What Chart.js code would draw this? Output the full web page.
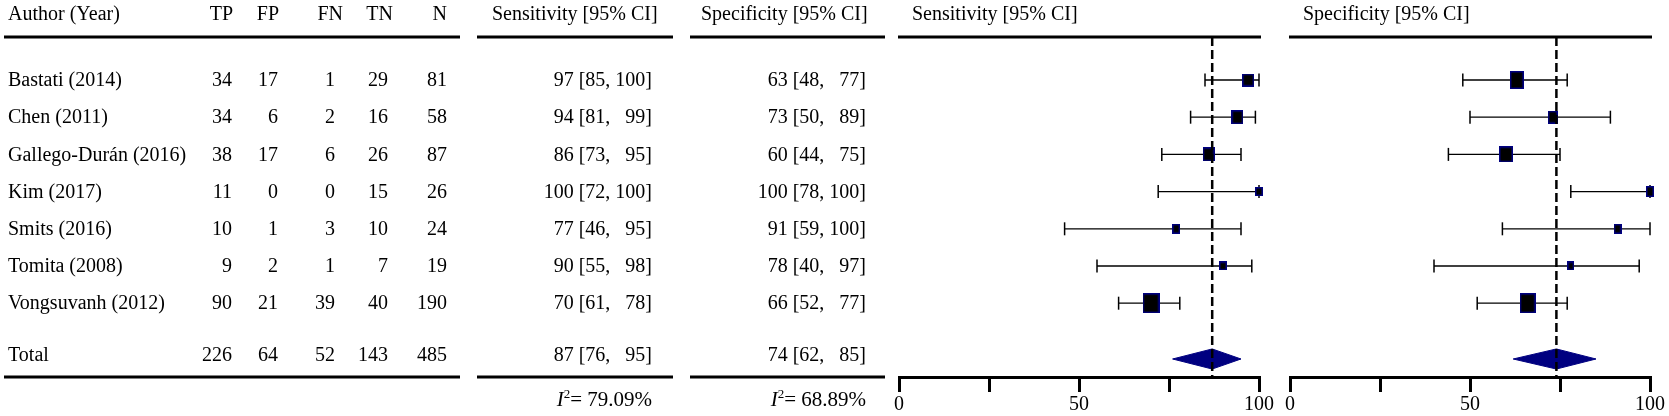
<!DOCTYPE html>
<html>
<head>
<meta charset="utf-8">
<script src="https://cdn.jsdelivr.net/npm/chart.js@4.4.1/dist/chart.umd.min.js"></script>
<style>
  body { margin: 0; background: #fff; }
  #wrap { position: relative; width: 1669px; height: 416px; }
  canvas { position: absolute; top: 0; }
</style>
</head>
<body>
<div id="wrap">
  <canvas id="sens" width="1280" height="416" style="left:0px"></canvas>
  <canvas id="spec" width="399" height="416" style="left:1270px"></canvas>
</div>
<script>
// study table
const authors = ['Bastati (2014)', 'Chen (2011)', 'Gallego-Durán (2016)', 'Kim (2017)', 'Smits (2016)', 'Tomita (2008)', 'Vongsuvanh (2012)'];
const tp = [34, 34, 38, 11, 10, 9, 90];
const fp = [17, 6, 17, 0, 1, 2, 21];
const fn = [1, 2, 6, 0, 3, 1, 39];
const tn = [29, 16, 26, 15, 10, 7, 40];
const nTotal = [81, 58, 87, 26, 24, 19, 190];
const totals = [226, 64, 52, 143, 485];

// sensitivity / specificity with 95% CI
const sens = [97, 94, 86, 100, 77, 90, 70];
const sensLo = [85, 81, 73, 72, 46, 55, 61];
const sensHi = [100, 99, 95, 100, 95, 98, 78];
const spec = [63, 73, 60, 100, 91, 78, 66];
const specLo = [48, 50, 44, 78, 59, 40, 52];
const specHi = [77, 89, 75, 100, 100, 97, 77];
const sensPooled = [87, 76, 95];
const specPooled = [74, 62, 85];
const sensI2 = '79.09%';
const specI2 = '68.89%';
const xTicks = [0, 50, 100];

// box sizes (w, h) in px, study weights
const sensBox = [[12, 13], [12, 14], [12, 14], [8, 9], [8, 10], [8, 9], [17, 20]];
const specBox = [[14, 18], [10, 13], [14, 16], [8, 11], [8, 10], [7, 9], [16, 20]];

const FONT = '"Liberation Serif", "Times New Roman", serif';
const Y_MIN = -1.156, Y_MAX = 7.984;
const HEAD_ROW = -1.75, TOTAL_ROW = 7.5, I2_ROW = 8.62;
const DIAMOND_H = 0.27;
const TEXT_DY = 1;

Chart.defaults.font.family = FONT;
Chart.defaults.font.size = 20;
Chart.defaults.color = '#000';

function pad3(v) {
  const s = String(v);
  return s.length < 3 ? '  '.repeat(3 - s.length) + s : s;
}
function ciText(e, l, h) {
  return e + ' [' + l + ', ' + pad3(h) + ']';
}

function boxImage(w, h) {
  const c = document.createElement('canvas');
  c.width = w; c.height = h;
  const g = c.getContext('2d');
  g.fillStyle = '#000080';
  g.fillRect(0, 0, w, h);
  g.fillStyle = '#000';
  g.fillRect(1.5, 1.5, w - 3, h - 3);
  return c;
}

function txt(ctx, s, x, y, align) {
  ctx.textAlign = align;
  ctx.fillText(s, x, y);
}
function rule(ctx, x1, x2, y) {
  ctx.beginPath();
  ctx.moveTo(x1, y);
  ctx.lineTo(x2, y);
  ctx.stroke();
}
function drawI2(ctx, value, right, y) {
  ctx.textAlign = 'left';
  ctx.font = '21px ' + FONT;
  const rest = '= ' + value;
  const wRest = ctx.measureText(rest).width;
  ctx.font = '13px ' + FONT;
  const w2 = ctx.measureText('2').width;
  ctx.font = 'italic 21px ' + FONT;
  const wI = ctx.measureText('I').width;
  let x = right - wRest - w2 - wI;
  ctx.fillText('I', x, y);
  ctx.font = '13px ' + FONT;
  ctx.fillText('2', x + wI, y - 6);
  ctx.font = '21px ' + FONT;
  ctx.fillText(rest, x + wI + w2, y);
}

// left-hand table, drawn on the sensitivity chart
const colRight = [232, 278, 335, 388, 447];
const headRight = [233, 279, 343, 393, 447];
const heads = ['TP', 'FP', 'FN', 'TN', 'N'];
const tablePlugin = {
  id: 'table',
  afterDraw(chart) {
    const ctx = chart.ctx, ys = chart.scales.y, a = chart.chartArea;
    ctx.save();
    ctx.fillStyle = '#000';
    ctx.strokeStyle = '#000';
    ctx.font = '20px ' + FONT;
    ctx.textBaseline = 'middle';

    const yh = ys.getPixelForValue(HEAD_ROW);
    txt(ctx, 'Author (Year)', 8, yh, 'left');
    heads.forEach((h, k) => txt(ctx, h, headRight[k], yh, 'right'));
    txt(ctx, 'Sensitivity [95% CI]', 492, yh, 'left');
    txt(ctx, 'Specificity [95% CI]', 701, yh, 'left');

    authors.forEach((name, i) => {
      const y = ys.getPixelForValue(i) + TEXT_DY;
      txt(ctx, name, 8, y, 'left');
      [tp, fp, fn, tn, nTotal].forEach((col, k) => txt(ctx, String(col[i]), colRight[k], y, 'right'));
      txt(ctx, ciText(sens[i], sensLo[i], sensHi[i]), 652, y, 'right');
      txt(ctx, ciText(spec[i], specLo[i], specHi[i]), 866, y, 'right');
    });

    const yt = ys.getPixelForValue(TOTAL_ROW) - 3;
    txt(ctx, 'Total', 8, yt, 'left');
    totals.forEach((v, k) => txt(ctx, String(v), colRight[k], yt, 'right'));
    txt(ctx, ciText(sensPooled[0], sensPooled[1], sensPooled[2]), 652, yt, 'right');
    txt(ctx, ciText(specPooled[0], specPooled[1], specPooled[2]), 866, yt, 'right');

    ctx.lineWidth = 3;
    [[4, 460], [477, 673], [690, 885]].forEach(r => {
      rule(ctx, r[0], r[1], a.top);
      rule(ctx, r[0], r[1], a.bottom);
    });

    const yi = ys.getPixelForValue(I2_ROW);
    drawI2(ctx, sensI2, 652, yi);
    drawI2(ctx, specI2, 866, yi);
    ctx.restore();
  }
};

// header text and top rule above each plot panel
function panelPlugin(title) {
  return {
    id: 'panelHead',
    afterDraw(chart) {
      const ctx = chart.ctx, a = chart.chartArea, ys = chart.scales.y;
      ctx.save();
      ctx.strokeStyle = '#000';
      ctx.lineWidth = 3;
      rule(ctx, a.left - 1, a.right + 2, a.top);
      ctx.fillStyle = '#000';
      ctx.font = '20px ' + FONT;
      ctx.textBaseline = 'middle';
      txt(ctx, title, a.left + 13, ys.getPixelForValue(HEAD_ROW), 'left');
      ctx.restore();
    }
  };
}

function panelDatasets(est, lo, hi, boxes, pooled) {
  const ds = [];
  ds.push({
    data: [{ x: pooled[0], y: Y_MIN }, { x: pooled[0], y: Y_MAX }],
    showLine: true, borderColor: '#000', borderWidth: 2.5, borderDash: [9, 4],
    pointRadius: 0, order: 0
  });
  ds.push({
    data: est.map((v, i) => ({ x: v, y: i })),
    pointStyle: boxes.map(b => boxImage(b[0], b[1])),
    pointRadius: 5, order: 1
  });
  lo.forEach((l, i) => ds.push({
    data: [{ x: l, y: i }, { x: hi[i], y: i }],
    showLine: true, borderColor: '#000', borderWidth: 1.3,
    pointStyle: 'line', pointRotation: 90, pointRadius: 6.5,
    pointBorderWidth: 1.5, pointBorderColor: '#000', order: 2
  }));
  ds.push({
    data: [
      { x: pooled[1], y: TOTAL_ROW },
      { x: pooled[0], y: TOTAL_ROW - DIAMOND_H },
      { x: pooled[2], y: TOTAL_ROW },
      { x: pooled[0], y: TOTAL_ROW + DIAMOND_H },
      { x: pooled[1], y: TOTAL_ROW }
    ],
    showLine: true, fill: 'shape', backgroundColor: '#000080', borderColor: '#000080',
    borderWidth: 1, pointRadius: 0, tension: 0, order: 3
  });
  ds.forEach(d => { d.clip = false; });
  return ds;
}

function makePanel(id, est, lo, hi, boxes, pooled, padL, padR, plugins) {
  return new Chart(document.getElementById(id), {
    type: 'scatter',
    data: { datasets: panelDatasets(est, lo, hi, boxes, pooled) },
    options: {
      responsive: false,
      animation: false,
      events: [],
      layout: { padding: { left: padL, right: padR, top: 37, bottom: 0 } },
      plugins: { legend: { display: false }, tooltip: { enabled: false } },
      scales: {
        x: {
          type: 'linear', min: 0, max: 100, position: 'bottom',
          afterFit: s => { s.height = 39; },
          ticks: {
            stepSize: 25, autoSkip: false, maxRotation: 0, padding: 1, color: '#000',
            font: { family: FONT, size: 20 },
            callback: v => (xTicks.includes(v) ? String(v) : '')
          },
          grid: { drawOnChartArea: false, drawTicks: true, tickLength: 15, color: '#000', lineWidth: 3 },
          border: { display: true, color: '#000', width: 3 }
        },
        y: { type: 'linear', reverse: true, min: Y_MIN, max: Y_MAX, display: false }
      }
    },
    plugins: plugins
  });
}

makePanel('sens', sens, sensLo, sensHi, sensBox, sensPooled, 899, 21,
  [tablePlugin, panelPlugin('Sensitivity [95% CI]')]);
makePanel('spec', spec, specLo, specHi, specBox, specPooled, 20, 19,
  [panelPlugin('Specificity [95% CI]')]);
</script>
</body>
</html>
